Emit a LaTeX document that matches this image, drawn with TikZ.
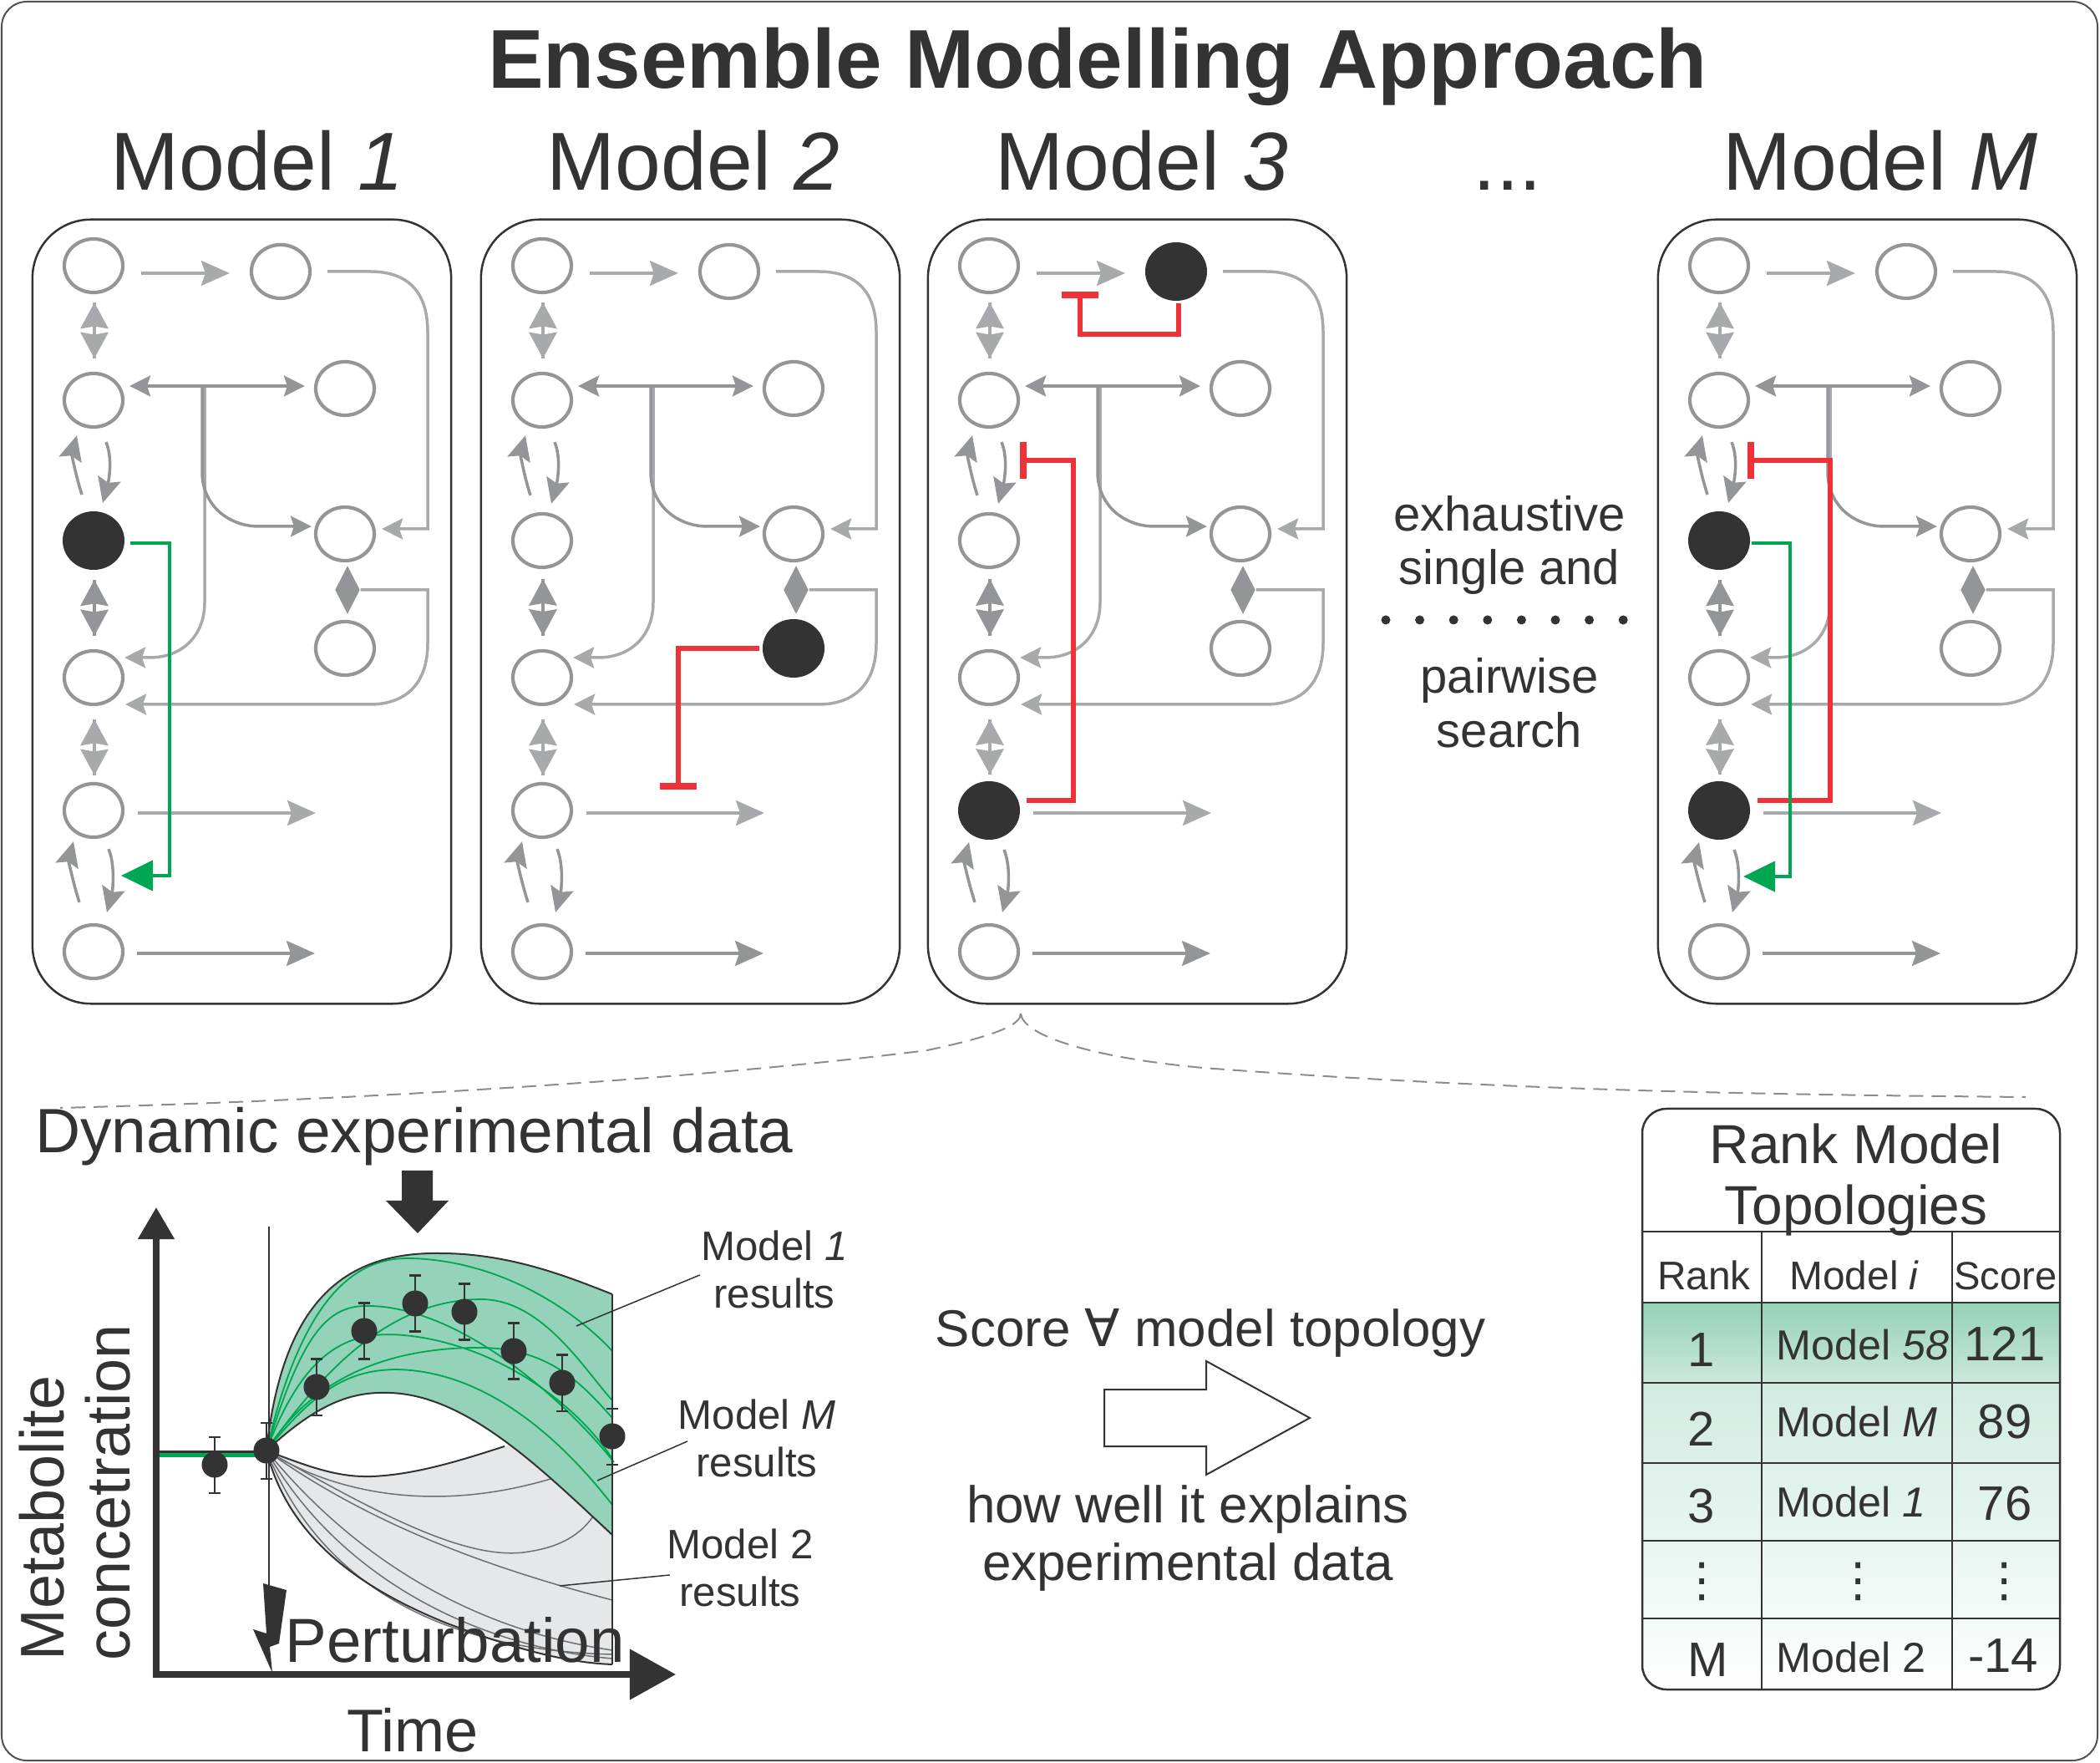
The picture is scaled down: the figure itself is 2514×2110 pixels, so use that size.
\documentclass[tikz,border=0pt]{standalone}
\usepackage{fontspec}
\setmainfont{Liberation Sans}
\newfontfamily\dejavu{DejaVu Sans}
\usetikzlibrary{arrows.meta,shapes.geometric,calc}
\definecolor{dk}{HTML}{333333}
\definecolor{gnode}{HTML}{939598}
\definecolor{glight}{HTML}{A7A9AC}
\definecolor{gdark}{HTML}{939598}
\definecolor{grn}{HTML}{00A651}
\definecolor{rd}{HTML}{EE3237}
\definecolor{bandg}{HTML}{94D2B9}
\definecolor{bandgray}{HTML}{E6E7E8}
\definecolor{curvgray}{HTML}{6D6E71}
\definecolor{dashc}{HTML}{8C8C8C}
\definecolor{rowa}{HTML}{95D1B9}
\definecolor{rowb}{HTML}{CBE8DC}
\definecolor{rowc}{HTML}{D1EBE1}
\tikzset{
 met/.style={ellipse, draw=gnode, line width=0.042cm, fill=white, minimum width=0.70cm, minimum height=0.64cm, inner sep=0pt},
 blk/.style={ellipse, draw=dk, fill=dk, line width=0.02cm, minimum width=0.72cm, minimum height=0.68cm, inner sep=0pt},
 dia/.style={diamond, fill=gdark, draw=none, inner sep=0pt, minimum width=0.30cm, minimum height=0.58cm},
 panelbox/.style={rectangle, draw=dk, line width=0.025cm, rounded corners=0.7cm, minimum width=5.01cm, minimum height=9.38cm},
 gl/.style={draw=glight, line width=0.035cm},
 gd/.style={draw=gdark, line width=0.035cm},
 bga/.style={-{Stealth[length=0.34cm,width=0.30cm,inset=0.05cm]}},
 sma/.style={-{Stealth[length=0.25cm,width=0.25cm,inset=0.04cm]}},
 smab/.style={{Stealth[length=0.25cm,width=0.25cm,inset=0.04cm]}-{Stealth[length=0.25cm,width=0.25cm,inset=0.04cm]}},
 cva/.style={-{Stealth[length=0.30cm,width=0.28cm,inset=0.05cm]}},
 act/.style={draw=grn, line width=0.045cm, -{Triangle[length=0.38cm,width=0.36cm]}},
 inh/.style={draw=rd, line width=0.062cm, -{Bar[width=0.44cm,line width=0.08cm]}},
 txt/.style={text=dk, inner sep=0pt},
 lead/.style={draw=dk, line width=0.015cm},
}
% double-headed block arrow between two points
\newcommand{\dbla}[3]{%
 \path (#1) coordinate (da) (#2) coordinate (db);
 \draw[#3, line width=0.035cm] (da) -- (db);
 \fill[#3] (da) -- ($(da)!0.5!(db)+(17,-2)$) -- ($(da)!0.5!(db)+(0,-5)$) -- ($(da)!0.5!(db)+(-17,-2)$) -- cycle;
 \fill[#3] (db) -- ($(da)!0.5!(db)+(17,2)$) -- ($(da)!0.5!(db)+(0,5)$) -- ($(da)!0.5!(db)+(-17,2)$) -- cycle;
}
\newcommand{\modelpanel}[4]{%
\begin{scope}[name prefix=#2-, nL1/.style=met, nL2/.style=met, nL3/.style=met, nL4/.style=met, nL5/.style=met, nL6/.style=met, nT2/.style=met, nR1/.style=met, nR2/.style=met, nR3/.style=met, #3]
\pgfmathsetmacro\ox{#1}
\node[panelbox] (box) at (\ox+250.5,732) {};
\node[nL1] (L1) at (\ox+73,318) {};
\node[nL2] (L2) at (\ox+73,479) {};
\node[nL3] (L3) at (\ox+73,647) {};
\node[nL4] (L4) at (\ox+73,811) {};
\node[nL5] (L5) at (\ox+73,970) {};
\node[nL6] (L6) at (\ox+73,1139) {};
\node[nT2] (T2) at (\ox+297,325) {};
\node[nR1] (R1) at (\ox+374,465) {};
\node[nR2] (R2) at (\ox+374,639) {};
\node[nR3] (R3) at (\ox+374,776) {};
\node[dia] (D) at (\ox+377,706) {};
\draw[gl,bga] ($(L1.east)+(20,9)$) -- ($(T2.west)+(-24,2)$);
\dbla{$(L1.south)+(1,10)$}{$(L2.north)+(1,-16)$}{glight}
\dbla{$(L3.south)+(1,12)$}{$(L4.north)+(1,-16)$}{gdark}
\dbla{$(L4.south)+(1,16)$}{$(L5.north)+(1,-8)$}{glight}
\draw[gd,cva] ($(L3.north)+(-14,-20)$) .. controls +(-8,-25) and +(-6,22) .. ($(L2.south)+(-20,8)$);
\draw[gd,cva] ($(L2.south)+(15,16)$) .. controls +(9,22) and +(6,-22) .. ($(L3.north)+(11,-10)$);
\draw[gd,cva] ($(L6.north)+(-17,-25)$) .. controls +(-8,-25) and +(-6,22) .. ($(L5.south)+(-24,3)$);
\draw[gd,cva] ($(L5.south)+(18,12)$) .. controls +(9,22) and +(6,-22) .. ($(L6.north)+(16,-13)$);
\coordinate (J) at (\ox+203,462);
\draw[gl,sma] ($(J)+(3,0)$) -- (\ox+206,721) .. controls (\ox+206,760) and (\ox+180,787) .. (\ox+140,787) -- ($(L4.east)+(0,-24)$);
\draw[gd,smab] ($(L2.east)+(6,-17)$) -- ($(R1.west)+(-11,-3)$);
\draw[gd,sma] (J) -- (\ox+203,565) .. controls (\ox+203,605) and (\ox+235,630) .. (\ox+271,630) -- ($(R2.west)+(-3,-9)$);
\draw[gl,sma] ($(T2.east)+(19,0)$) -- (\ox+404,325) .. controls (\ox+445,325) and (\ox+473,345) .. (\ox+473,397) -- (\ox+473,633) -- ($(R2.east)+(7,-6)$);
\draw[gl,sma] (D.east) -- (\ox+473,706) -- (\ox+473,770) .. controls (\ox+473,820) and (\ox+445,843) .. (\ox+404,843) -- ($(L4.east)+(1,32)$);
\coordinate (E5) at (\ox+339,973);
\coordinate (E6) at (\ox+338,1141);
\draw[gl,bga] ($(L5.east)+(16,3)$) -- (E5);
\draw[gd,bga] ($(L6.east)+(15,2)$) -- (E6);
#4
\end{scope}}
\begin{document}
\begin{tikzpicture}[x=0.01cm,y=-0.01cm]
\useasboundingbox (0,0) rectangle (2514,2110);
\draw[draw=dk!85, line width=0.02cm, rounded corners=0.3cm] (2,2) rectangle (2511,2107);
% headings
\node[txt, anchor=base, font=\fontsize{28.4}{34}\selectfont\bfseries] (title) at (1314,106) {Ensemble Modelling Approach};
\node[txt, anchor=base, font=\fontsize{28}{34}\selectfont] (h1) at (308,228) {Model \textit{1}};
\node[txt, anchor=base, font=\fontsize{28}{34}\selectfont] (h2) at (830,228) {Model \textit{2}};
\node[txt, anchor=base, font=\fontsize{28}{34}\selectfont] (h3) at (1367,228) {Model \textit{3}};
\node[txt, anchor=base, font=\fontsize{28}{34}\selectfont] (hd) at (1805,228) {...};
\node[txt, anchor=base, font=\fontsize{28}{34}\selectfont] (hM) at (2251,228) {Model \textit{M}};
% panels
\modelpanel{39}{p1}{nL3/.style=blk}{\coordinate (G) at (\ox+106,1048); \draw[act] ($(L3.east)+(7,3)$) -- (\ox+164,650) -- (\ox+164,1048) -- (G);}
\modelpanel{576}{p2}{nR3/.style=blk}{\coordinate (I) at (\ox+236,945); \draw[inh] ($(R3.west)+(-4,0)$) -| (I);}
\modelpanel{1111}{p3}{nT2/.style=blk, nL5/.style=blk}{\coordinate (Ia) at (\ox+182,349); \draw[inh] ($(T2.south)+(3,3)$) -- (\ox+300,400) -| (Ia); \coordinate (Ib) at (\ox+110,551); \draw[inh] ($(L5.east)+(8,-12)$) -- (\ox+174,958) |- (Ib);}
\modelpanel{1985}{pM}{nL3/.style=blk, nL5/.style=blk}{\coordinate (Ib) at (\ox+107,551); \draw[inh] ($(L5.east)+(9,-12)$) -- (\ox+206,958) |- (Ib); \coordinate (G) at (\ox+102,1049); \draw[act] ($(L3.east)+(2,3)$) -- (\ox+158,650) -- (\ox+158,1049) -- (G);}
% middle text
\node[txt, anchor=base, font=\fontsize{16.5}{20}\selectfont] (ex1) at (1807,636) {exhaustive};
\node[txt, anchor=base, font=\fontsize{16.5}{20}\selectfont] (ex2) at (1807,700) {single and};
\node[txt, anchor=base, font=\fontsize{16.5}{20}\selectfont] (ex3) at (1807,830) {pairwise};
\node[txt, anchor=base, font=\fontsize{16.5}{20}\selectfont] (ex4) at (1807,895) {search};
\foreach \i in {0,...,7} \fill[dk] (1659+\i*40.6,742) circle[radius=0.055cm];
% dashed zoom lines
\coordinate (cusp) at (1222,1213);
\coordinate (dl) at (72,1326);
\coordinate (dr) at (2425,1313);
\draw[dashc, line width=0.02cm, dash pattern=on 0.17cm off 0.10cm] (cusp) .. controls (1222,1225) and (1200,1238) .. (1110,1257) .. controls (850,1290) and (450,1316) .. (dl);
\draw[dashc, line width=0.02cm, dash pattern=on 0.17cm off 0.10cm] (cusp) .. controls (1224,1238) and (1300,1265) .. (1440,1278) .. controls (1800,1305) and (2100,1310) .. (dr);
% plot
\node[txt, anchor=base, font=\fontsize{21.3}{25}\selectfont] (dyn) at (496,1380) {Dynamic experimental data};
\fill[dk] (481,1401) -- (518,1401) -- (518,1437) -- (537,1437) -- (500,1476) -- (462,1437) -- (481,1437) -- cycle;
\fill[bandgray] (319,1736) .. controls (380,1760) and (410,1768) .. (445,1767) .. controls (500,1765) and (560,1745) .. (604,1731) -- (640,1716) -- (733,1690) -- (733,1992) .. controls (680,1990) and (620,1975) .. (533,1942) .. controls (430,1900) and (345,1840) .. (319,1736) -- cycle;
\begin{scope}[curvgray, line width=0.015cm]
\draw (319,1736) .. controls (420,1800) and (560,1810) .. (700,1756);
\draw (319,1736) .. controls (450,1810) and (560,1870) .. (633,1857) .. controls (680,1850) and (700,1830) .. (712,1812);
\draw (319,1736) .. controls (450,1830) and (600,1880) .. (733,1915);
\draw (319,1736) .. controls (420,1860) and (560,1950) .. (733,1975);
\draw (319,1736) .. controls (400,1880) and (560,1970) .. (733,1985);
\draw (319,1736) .. controls (380,1890) and (520,1975) .. (733,1980);
\end{scope}
\fill[bandg] (319,1736) .. controls (338,1560) and (410,1498) .. (527,1500) .. controls (610,1500) and (680,1528) .. (733,1549) -- (733,1837) .. controls (650,1760) and (560,1670) .. (467,1667) .. controls (420,1665) and (380,1680) .. (319,1736) -- cycle;
\begin{scope}[grn, line width=0.018cm]
\draw (319,1736) .. controls (360,1560) and (420,1505) .. (490,1506) .. controls (600,1508) and (690,1570) .. (733,1617);
\draw (319,1736) .. controls (360,1600) and (390,1565) .. (435,1563) .. controls (550,1560) and (680,1680) .. (735,1750);
\draw (319,1736) .. controls (400,1620) and (480,1555) .. (577,1555) .. controls (650,1556) and (700,1640) .. (733,1676);
\draw (319,1736) .. controls (380,1640) and (480,1612) .. (577,1613) .. controls (660,1614) and (700,1660) .. (733,1697);
\draw (319,1736) .. controls (380,1660) and (420,1640) .. (473,1639) .. controls (580,1640) and (670,1720) .. (733,1801);
\draw (319,1736) .. controls (370,1600) and (430,1590) .. (500,1600) .. controls (600,1615) and (690,1680) .. (733,1746);
\end{scope}
\begin{scope}[dk, line width=0.02cm]
\draw (319,1736) .. controls (338,1560) and (410,1498) .. (527,1500) .. controls (610,1500) and (680,1528) .. (733,1549);
\draw (733,1549) -- (733,1992);
\draw (319,1736) .. controls (380,1680) and (420,1665) .. (467,1667) .. controls (560,1670) and (650,1760) .. (733,1837);
\draw (319,1736) .. controls (380,1760) and (410,1768) .. (445,1767) .. controls (500,1765) and (560,1745) .. (604,1731);
\draw (319,1736) .. controls (345,1840) and (430,1900) .. (533,1942) .. controls (620,1975) and (680,1990) .. (733,1992);
\end{scope}
\draw[dk, line width=0.03cm] (187,1737) -- (319,1737);
\draw[grn, line width=0.045cm] (187,1741.5) -- (319,1741.5);
\foreach \x/\y in {257/1753, 319/1736, 379/1660, 436/1593, 497/1560, 556/1570, 615/1617, 673/1655, 733/1719} {
  \draw[dk, line width=0.02cm] (\x,\y-33.5) -- (\x,\y+33.5) (\x-7,\y-33.5) -- (\x+7,\y-33.5) (\x-7,\y+33.5) -- (\x+7,\y+33.5);
  \fill[dk] (\x,\y) circle[radius=0.155cm];
}
\coordinate (O) at (187,2008);
\coordinate (ytop) at (187,1445);
\coordinate (xo) at (183,2004);
\coordinate (xend) at (809,2004);
\draw[dk, line width=0.076cm, -{Triangle[length=0.38cm,width=0.42cm]}] (O) -- (ytop);
\draw[dk, line width=0.076cm, -{Triangle[length=0.55cm,width=0.59cm]}] (xo) -- (xend);
\draw[dk, line width=0.012cm] (322,1468) -- (322,1897);
\fill[dk] (315,1895) -- (343,1903) -- (334,1967) -- (323,1971) -- (326,2002) -- (303,1950) -- (319,1955) -- cycle;
\node[txt, anchor=base west, font=\fontsize{21.2}{25}\selectfont] (pert) at (341,1989) {Perturbation};
\node[txt, anchor=base, font=\fontsize{20.5}{24}\selectfont] (time) at (494,2096) {Time};
\node[txt, rotate=90, anchor=base west, font=\fontsize{21}{25}\selectfont] (met1) at (76,1988) {Metabolite};
\node[txt, rotate=90, anchor=base west, font=\fontsize{21}{25}\selectfont] (met2) at (156,1988) {concetration};
\node[txt, align=center, font=\fontsize{14}{16.2}\selectfont] (lab1) at (927,1519) {Model \textit{1}\\results};
\node[txt, align=center, font=\fontsize{14}{16.2}\selectfont] (labM) at (906,1721) {Model \textit{M}\\results};
\node[txt, align=center, font=\fontsize{14}{16.2}\selectfont] (lab2) at (886,1876) {Model 2\\results};
\coordinate (k1) at (690,1587);
\coordinate (kM) at (715,1772);
\coordinate (k2) at (670,1898);
\draw[lead] ($(lab1.west)+(-1,7)$) -- (k1);
\draw[lead] ($(labM.west)+(12,4)$) -- (kM);
\draw[lead] ($(lab2.west)+(4,9)$) -- (k2);
% score
\node[txt, anchor=base, font=\fontsize{17.6}{21}\selectfont] (score) at (1449,1611) {Score {\dejavu ∀} model topology};
\draw[dk, line width=0.02cm, fill=white] (1322,1663) -- (1444,1663) -- (1444,1629) -- (1568,1697) -- (1444,1765) -- (1444,1731) -- (1322,1731) -- cycle;
\node[txt, align=center, font=\fontsize{17.6}{19.6}\selectfont] (how) at (1422,1841) {how well it explains\\experimental data};
% table
\begin{scope}
\clip[rounded corners=0.29cm] (1966,1327) rectangle (2466,2022);
\shade[top color=rowa, bottom color=rowb] (1966,1559) rectangle (2466,1655);
\shade[top color=rowc, bottom color=white] (1966,1655) rectangle (2466,2022);
\end{scope}
\begin{scope}[dk, line width=0.02cm]
\draw (1966,1474) -- (2466,1474);
\foreach \yy in {1559,1655,1751,1844,1937} \draw (1966,\yy) -- (2466,\yy);
\draw (2109,1474) -- (2109,2022);
\draw (2337,1474) -- (2337,2022);
\end{scope}
\draw[dk, line width=0.025cm, rounded corners=0.29cm] (1966,1327) rectangle (2466,2022);
\node[txt, align=center, font=\fontsize{18.7}{20.8}\selectfont] (ttl) at (2222,1412) {Rank Model\\Topologies};
\node[txt, anchor=base, font=\fontsize{13.6}{16}\selectfont] (hr) at (2040,1544) {Rank};
\node[txt, anchor=base, font=\fontsize{13.6}{16}\selectfont] (hm) at (2220,1544) {Model \textit{i}};
\node[txt, anchor=base, font=\fontsize{13.4}{16}\selectfont] (hs) at (2401,1544) {Score};
\node[txt, anchor=base, font=\fontsize{16.5}{20}\selectfont] (r1) at (2037,1636) {1};
\node[txt, anchor=base west, font=\fontsize{14.3}{18}\selectfont] (m1) at (2126,1627) {Model \textit{58}};
\node[txt, anchor=base, font=\fontsize{16.5}{20}\selectfont] (s1) at (2400,1629) {121};
\node[txt, anchor=base, font=\fontsize{16.5}{20}\selectfont] (r2) at (2037,1730) {2};
\node[txt, anchor=base west, font=\fontsize{14.3}{18}\selectfont] (m2) at (2126,1719) {Model \textit{M}};
\node[txt, anchor=base, font=\fontsize{16.5}{20}\selectfont] (s2) at (2400,1721) {89};
\node[txt, anchor=base, font=\fontsize{16.5}{20}\selectfont] (r3) at (2037,1822) {3};
\node[txt, anchor=base west, font=\fontsize{14.3}{18}\selectfont] (m3) at (2126,1815) {Model \textit{1}};
\node[txt, anchor=base, font=\fontsize{16.5}{20}\selectfont] (s3) at (2400,1819) {76};
\node[txt, font=\fontsize{16}{20}\selectfont\dejavu] (r4) at (2038,1893) {⋮};
\node[txt, font=\fontsize{16}{20}\selectfont\dejavu] (m4) at (2225,1893) {⋮};
\node[txt, font=\fontsize{16}{20}\selectfont\dejavu] (s4) at (2400,1893) {⋮};
\node[txt, anchor=base, font=\fontsize{16.5}{20}\selectfont] (r5) at (2045,2006) {M};
\node[txt, anchor=base west, font=\fontsize{14.3}{18}\selectfont] (m5) at (2126,2001) {Model 2};
\node[txt, anchor=base, font=\fontsize{16.5}{20}\selectfont] (s5) at (2398,2001) {-14};
\end{tikzpicture}
\end{document}
